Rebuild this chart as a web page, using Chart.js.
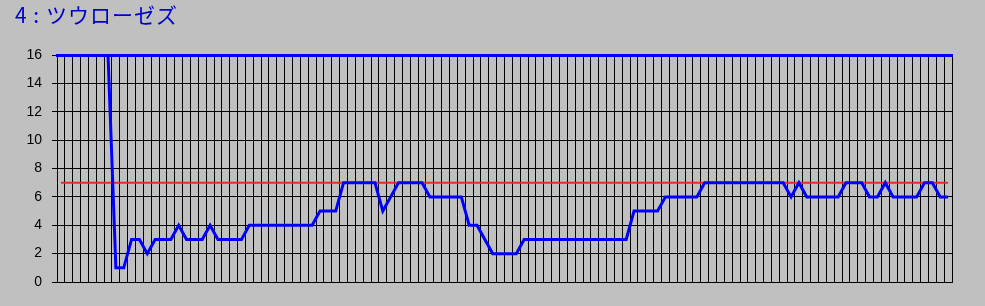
<!DOCTYPE html>
<html>
<head>
<meta charset="utf-8">
<script src="https://cdn.jsdelivr.net/npm/chart.js@4"></script>
<style>
  html, body { margin: 0; padding: 0; background: #c0c0c0; }
  #wrap { position: relative; width: 985px; height: 306px; }
  #titulo {
    position: absolute; left: 15px; top: 4px;
    font: 21px "Noto Sans CJK JP", sans-serif; line-height: 20px;
    letter-spacing: 1px;
    color: #0000cc; white-space: pre;
  }
</style>
</head>
<body>
<div id="wrap">
  <div id="titulo">4 : ツウローゼズ</div>
  <canvas id="chartRank" width="985" height="306"></canvas>
</div>
<script>
// Posición semanal (114 puntos)
const ranks = [
  16, 16, 16, 16, 16, 16, 16, 1, 1, 3,
  3, 2, 3, 3, 3, 4, 3, 3, 3, 4,
  3, 3, 3, 3, 4, 4, 4, 4, 4, 4,
  4, 4, 4, 5, 5, 5, 7, 7, 7, 7,
  7, 5, 6, 7, 7, 7, 7, 6, 6, 6,
  6, 6, 4, 4, 3, 2, 2, 2, 2, 3,
  3, 3, 3, 3, 3, 3, 3, 3, 3, 3,
  3, 3, 3, 5, 5, 5, 5, 6, 6, 6,
  6, 6, 7, 7, 7, 7, 7, 7, 7, 7,
  7, 7, 7, 6, 7, 6, 6, 6, 6, 6,
  7, 7, 7, 6, 6, 7, 6, 6, 6, 6,
  7, 7, 6, 6,
];
const semanas = ranks.map((_, i) => String(i + 1));
const lineaRef = 7;
const yTicks = [0, 2, 4, 6, 8, 10, 12, 14, 16];

const canvas = document.getElementById("chartRank");

new Chart(canvas.getContext("2d"), {
  type: "line",
  data: {
    labels: semanas,
    datasets: [
      {
        label: "referencia",
        data: [
          { x: semanas[0], y: lineaRef },
          { x: semanas[semanas.length - 1], y: lineaRef },
        ],
        borderColor: "rgb(235, 40, 40)",
        borderWidth: 2,
        pointRadius: 0,
        tension: 0,
        order: 2,
      },
      {
        label: "posición",
        data: ranks,
        borderColor: "#0000ff",
        borderWidth: 3,
        pointRadius: 0,
        tension: 0,
        order: 1,
      },
    ],
  },
  options: {
    responsive: false,
    animation: false,
    layout: { padding: { left: 0, top: 55, right: 33, bottom: 24 } },
    plugins: {
      legend: { display: false },
      tooltip: { enabled: false },
      title: { display: false },
    },
    scales: {
      x: {
        offset: true,
        grid: { color: "#000000", lineWidth: 1, drawTicks: false, offset: true },
        border: { color: "#000000", width: 1 },
        ticks: { display: false },
        afterFit: (a) => { a.height = 0; },
      },
      xTop: {
        type: "category",
        position: "top",
        grid: { display: false, drawTicks: false },
        border: { color: "#0000ff", width: 3 },
        ticks: { display: false },
        afterFit: (a) => { a.height = 0; },
      },
      y: {
        min: 0,
        max: 16,
        afterBuildTicks: (a) => { a.ticks = yTicks.map((v) => ({ value: v })); },
        grid: { color: "#000000", lineWidth: 1, tickLength: 5 },
        border: { color: "#000000", width: 1 },
        ticks: {
          color: "#000000",
          padding: 10,
          font: { family: "Liberation Sans, Arial, sans-serif", size: 14 },
        },
        afterFit: (a) => { a.width = 57; },
      },
    },
  },
});
</script>
</body>
</html>
